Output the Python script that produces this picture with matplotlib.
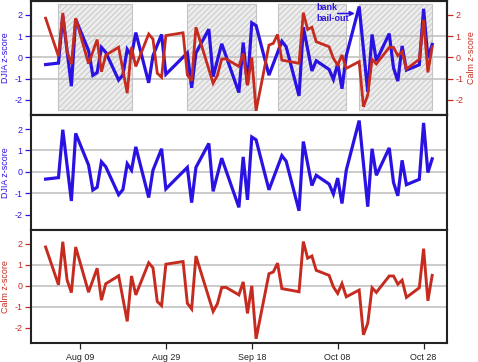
import numpy as np
import matplotlib
matplotlib.use('Agg')
import matplotlib.pyplot as plt
import matplotlib.dates as mdates
from matplotlib.patches import Rectangle

plt.rcParams['font.family'] = ['Liberation Sans', 'DejaVu Sans']
plt.rcParams['axes.unicode_minus'] = False
plt.rcParams['hatch.linewidth'] = 0.6

# DJIA z-score
djia_dates = ['2008-08-01', '2008-08-04', '2008-08-05', '2008-08-07', '2008-08-08',
              '2008-08-11', '2008-08-12', '2008-08-13', '2008-08-14', '2008-08-15',
              '2008-08-18', '2008-08-19', '2008-08-20', '2008-08-21', '2008-08-22',
              '2008-08-25', '2008-08-26', '2008-08-28', '2008-08-29',
              '2008-09-03', '2008-09-04', '2008-09-05', '2008-09-08', '2008-09-09',
              '2008-09-11', '2008-09-15', '2008-09-16', '2008-09-17', '2008-09-18',
              '2008-09-19', '2008-09-22', '2008-09-25', '2008-09-26', '2008-09-29',
              '2008-09-30', '2008-10-02', '2008-10-03', '2008-10-06', '2008-10-07',
              '2008-10-08', '2008-10-09', '2008-10-10', '2008-10-13', '2008-10-15',
              '2008-10-16', '2008-10-17', '2008-10-20', '2008-10-21', '2008-10-22',
              '2008-10-23', '2008-10-24', '2008-10-27', '2008-10-28', '2008-10-29',
              '2008-10-30']
djia_z = [-0.34, -0.27, 1.97, -1.36, 1.80,
          0.32, -0.85, -0.72, 0.47, 0.24,
          -1.07, -0.83, 0.38, 0.08, 1.17,
          -1.20, 0.08, 1.08, -0.80,
          0.21, -1.44, 0.21, 1.33, -0.91,
          0.64, -1.66, 0.70, -1.31, 1.63,
          1.50, -0.84, 0.76, 0.50, -1.82,
          1.42, -0.64, -0.16, -0.57, -1.04,
          -0.29, -1.48, 0.08, 2.40, -1.63,
          1.08, -0.16, 1.12, -0.50, -1.12,
          0.54, -0.60, -0.35, 2.29, -0.03,
          0.61]

# Calm z-score
calm_dates = ['2008-08-01', '2008-08-04', '2008-08-05', '2008-08-06', '2008-08-07',
              '2008-08-08', '2008-08-11', '2008-08-13', '2008-08-14', '2008-08-15',
              '2008-08-18', '2008-08-20', '2008-08-21', '2008-08-22', '2008-08-25',
              '2008-08-26', '2008-08-27', '2008-08-28', '2008-08-29',
              '2008-09-02', '2008-09-03', '2008-09-04', '2008-09-05', '2008-09-09',
              '2008-09-10', '2008-09-11', '2008-09-12', '2008-09-15', '2008-09-16',
              '2008-09-17', '2008-09-18', '2008-09-19', '2008-09-22', '2008-09-23',
              '2008-09-24', '2008-09-25', '2008-09-29', '2008-09-30', '2008-10-01',
              '2008-10-02', '2008-10-03', '2008-10-06', '2008-10-07', '2008-10-08',
              '2008-10-09', '2008-10-10', '2008-10-13', '2008-10-14', '2008-10-15',
              '2008-10-16', '2008-10-17', '2008-10-20', '2008-10-21', '2008-10-22',
              '2008-10-23', '2008-10-24', '2008-10-27', '2008-10-28', '2008-10-29',
              '2008-10-30']
calm_z = [1.85, 0.05, 2.10, 0.28, -0.32,
          1.85, -0.30, 0.84, -0.68, 0.10,
          0.48, -1.69, 0.47, -0.43, 1.10,
          0.86, -0.75, -0.94, 1.03,
          1.16, -0.83, -1.10, 1.42, -1.22,
          -0.85, -0.08, -0.07, -0.43, 0.19,
          -1.31, 0.00, -2.52, 0.58, 0.66,
          1.08, -0.13, -0.28, 2.11, 1.32,
          1.42, 0.74, 0.50, -0.05, -0.36,
          0.11, -0.52, -0.20, -2.33, -1.78,
          -0.09, -0.31, 0.47, 0.47, 0.08,
          0.27, -0.55, -0.09, 1.77, -0.71,
          0.50]

shade_start = ['2008-08-04', '2008-09-03', '2008-09-24', '2008-10-13']
shade_end = ['2008-08-21', '2008-09-19', '2008-10-10', '2008-10-30']
tick_dates = ['2008-08-09', '2008-08-29', '2008-09-18', '2008-10-08', '2008-10-28']

BLUE = '#2a12e2'
RED = '#c62b1f'
FS = 6.4

def d2n(s):
    return mdates.date2num(np.datetime64(s))

x0 = d2n('2008-08-09')
xlim = (x0 - 11.4, x0 + 85.45)
ylim = (-2.72, 2.66)

fig = plt.figure(figsize=(4.78, 3.62), dpi=100)
L, W = 31 / 478, 416 / 478
ax1 = fig.add_axes([L, 1 - 115 / 362, W, 114 / 362])
ax2 = fig.add_axes([L, 1 - 230 / 362, W, 115 / 362])
ax3 = fig.add_axes([L, 1 - 343 / 362, W, 113 / 362])


def style(ax, color, label, side='left'):
    ax.set_xlim(*xlim)
    ax.set_ylim(*ylim)
    ax.set_yticks([-2, -1, 0, 1, 2])
    ax.tick_params(axis='y', colors=color, labelsize=FS, length=4, width=0.9, pad=2)
    ax.set_ylabel(label, color=color, fontsize=FS, labelpad=3)
    if side == 'right':
        ax.yaxis.set_label_position('right')
        ax.yaxis.tick_right()
    for s in ax.spines.values():
        s.set_linewidth(1.5)
        s.set_color('#222222')


def grid(ax):
    for y in (-1, 0, 1):
        ax.axhline(y, color='#c2c2c2', lw=1.2, zorder=1)


dj = np.array(djia_dates, dtype='datetime64[D]')
cm = np.array(calm_dates, dtype='datetime64[D]')

# top panel: both series with shaded periods
for a, b in zip(shade_start, shade_end):
    ax1.add_patch(Rectangle((d2n(a), -2.5), d2n(b) - d2n(a), 5.0,
                            facecolor='#ececec', edgecolor='#c4c4c4',
                            hatch='//////', lw=0.8, zorder=0))
grid(ax1)
ax1.plot(dj, djia_z, color=BLUE, lw=2.3, solid_joinstyle='miter', zorder=3)
style(ax1, BLUE, 'DJIA z-score')
ax1.tick_params(axis='x', bottom=False, labelbottom=False)

ax1r = ax1.twinx()
ax1r.plot(cm, calm_z, color=RED, lw=2.0, solid_joinstyle='miter', zorder=3)
style(ax1r, RED, 'Calm z-score', side='right')
ax1r.tick_params(axis='x', bottom=False, labelbottom=False)

ax1r.text(d2n('2008-10-03'), 2.1, 'bank\nbail-out', color=BLUE, fontsize=6.5,
          fontweight='bold', ha='left', va='center', linespacing=1.3)
ax1r.annotate('', xy=(d2n('2008-10-12'), 2.07), xytext=(d2n('2008-10-08'), 2.07),
              arrowprops=dict(arrowstyle='-|>', color=BLUE, lw=1.1,
                              mutation_scale=7, shrinkA=0, shrinkB=0))

# middle panel: DJIA
grid(ax2)
ax2.plot(dj, djia_z, color=BLUE, lw=2.3, solid_joinstyle='miter', zorder=3)
style(ax2, BLUE, 'DJIA z-score')
ax2.tick_params(axis='x', bottom=False, labelbottom=False)

# bottom panel: Calm
grid(ax3)
ax3.plot(cm, calm_z, color=RED, lw=2.1, solid_joinstyle='miter', zorder=3)
style(ax3, RED, 'Calm z-score')
ax3.set_xticks([d2n(t) for t in tick_dates])
ax3.xaxis.set_major_formatter(mdates.DateFormatter('%b %d'))
ax3.tick_params(axis='x', length=4, width=0.9, labelsize=FS, pad=3, colors='#222222')

fig.savefig('out.png', dpi=100)
